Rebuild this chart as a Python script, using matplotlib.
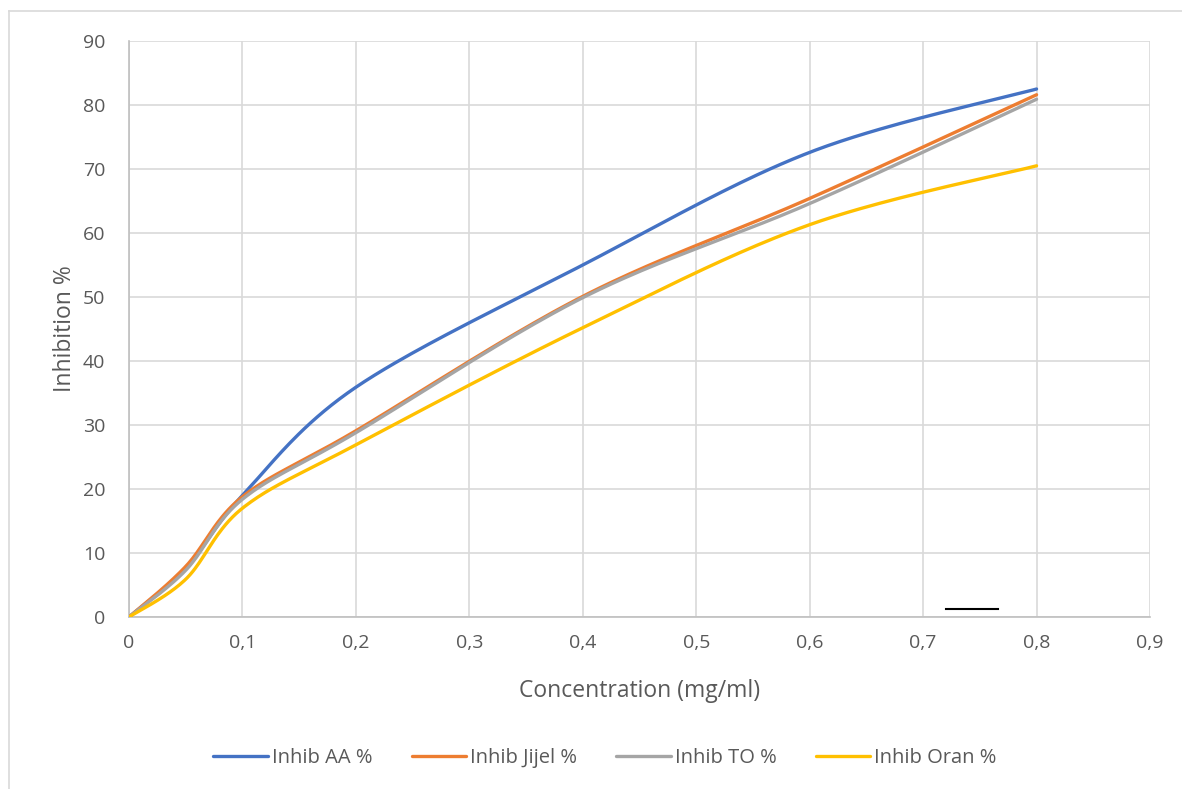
import numpy as np
import matplotlib
matplotlib.use("Agg")
import matplotlib.pyplot as plt
from matplotlib.lines import Line2D

# ---- data ----
conc = [0, 0.05, 0.1, 0.2, 0.4, 0.6, 0.8]
inhib_aa = [0, 7.6, 19.0, 35.9, 55.0, 72.6, 82.5]
inhib_jijel = [0, 7.9, 18.8, 29.1, 50.1, 65.4, 81.6]
inhib_to = [0, 7.3, 18.4, 28.8, 49.9, 64.6, 80.9]
inhib_oran = [0, 5.9, 17.0, 26.9, 45.2, 61.3, 70.5]
series_names = ["Inhib AA %", "Inhib Jijel %", "Inhib TO %", "Inhib Oran %"]
series_colors = ["#4472C4", "#ED7D31", "#A5A5A5", "#FFC000"]
x_ticks = [0, 0.1, 0.2, 0.3, 0.4, 0.5, 0.6, 0.7, 0.8, 0.9]
y_ticks = [0, 10, 20, 30, 40, 50, 60, 70, 80, 90]
stray_x = [0.72, 0.766]
stray_y = [1.25, 1.25]


def excel_smooth(x, y, n=40):
    x = np.asarray(x, float)
    y = np.asarray(y, float)
    px = np.concatenate([[x[0]], x, [x[-1]]])
    py = np.concatenate([[y[0]], y, [y[-1]]])
    xs, ys = [], []
    t = np.linspace(0, 1, n)
    for i in range(1, len(px) - 2):
        p0x, p1x, p2x, p3x = px[i - 1], px[i], px[i + 1], px[i + 2]
        p0y, p1y, p2y, p3y = py[i - 1], py[i], py[i + 1], py[i + 2]
        b0x, b3x = p1x, p2x
        b0y, b3y = p1y, p2y
        b1x = p1x + (p2x - p0x) / 6
        b1y = p1y + (p2y - p0y) / 6
        b2x = p2x - (p3x - p1x) / 6
        b2y = p2y - (p3y - p1y) / 6
        bx = ((1 - t) ** 3) * b0x + 3 * ((1 - t) ** 2) * t * b1x + 3 * (1 - t) * t ** 2 * b2x + t ** 3 * b3x
        by = ((1 - t) ** 3) * b0y + 3 * ((1 - t) ** 2) * t * b1y + 3 * (1 - t) * t ** 2 * b2y + t ** 3 * b3y
        xs.append(bx if i == 1 else bx[1:])
        ys.append(by if i == 1 else by[1:])
    return np.concatenate(xs), np.concatenate(ys)


plt.rcParams['font.family'] = ['Open Sans', 'DejaVu Sans']
W, H = 1182, 789
fig = plt.figure(figsize=(W / 100, H / 100), dpi=100)
ax = fig.add_axes([129 / W, 1 - 617 / H, (1150 - 129) / W, (617 - 41) / H])

grid_c = "#D9D9D9"
text_c = "#595959"

for name, vals, col in zip(series_names, [inhib_aa, inhib_jijel, inhib_to, inhib_oran], series_colors):
    sx, sy = excel_smooth(conc, vals)
    ax.plot(sx, sy, color=col, lw=2.4, label=name, solid_capstyle='round', zorder=3)

ax.plot(stray_x, stray_y, color="black", lw=1.5, zorder=4)

ax.set_xlim(0, 0.9)
ax.set_ylim(0, 90)
ax.set_xticks(x_ticks)
ax.set_yticks(y_ticks)
ax.set_xticklabels([("%g" % v).replace(".", ",") for v in x_ticks])
ax.set_yticklabels([str(v) for v in y_ticks])
ax.tick_params(axis='both', length=0, colors=text_c, labelsize=14)
ax.tick_params(axis='x', pad=12)
ax.tick_params(axis='y', pad=17)
ax.grid(True, color=grid_c, lw=1.2)
ax.set_axisbelow(True)
for s in ["top", "right"]:
    ax.spines[s].set_visible(False)
for s in ["left", "bottom"]:
    ax.spines[s].set_color("#BFBFBF")
    ax.spines[s].set_linewidth(1.2)

ax.set_xlabel("Concentration (mg/ml)", fontsize=16.5, color=text_c, labelpad=20)
ax.set_ylabel("Inhibition %", fontsize=16.5, color=text_c, labelpad=4)

leg = fig.legend(loc="center", bbox_to_anchor=(605 / W, 1 - 758 / H), ncol=4, frameon=False,
                 fontsize=14.5, handlelength=2.7, handletextpad=0.2, columnspacing=1.95)
for t in leg.get_texts():
    t.set_color(text_c)

# outer chart border
fig.add_artist(Line2D([9 / W, 9 / W], [0, 1 - 11 / H], color=grid_c, lw=1.2))
fig.add_artist(Line2D([9 / W, 1], [1 - 11 / H, 1 - 11 / H], color=grid_c, lw=1.2))

fig.savefig("out.png", dpi=100, facecolor="white")
